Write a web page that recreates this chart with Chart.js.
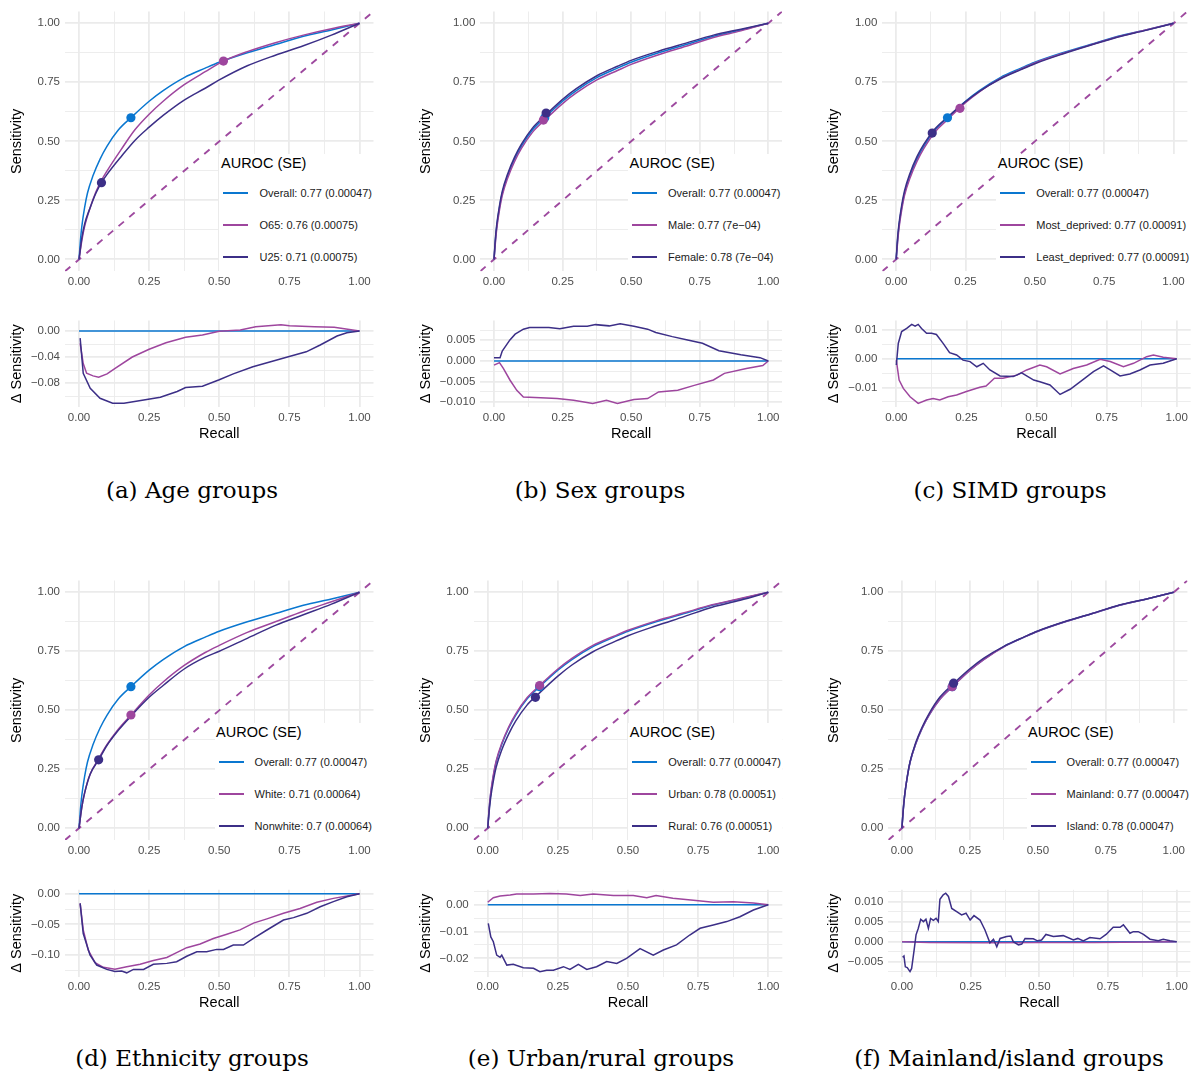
<!DOCTYPE html>
<html><head><meta charset="utf-8">
<script src="https://cdn.jsdelivr.net/npm/chart.js@4.4.1/dist/chart.umd.min.js"></script>
<style>
html,body{margin:0;padding:0;background:#fff;}
body{position:relative;width:1192px;height:1077px;overflow:hidden;}
canvas{position:absolute;}
.leg{position:absolute;background:#fff;padding-right:1.5px;box-sizing:border-box;font-family:"Liberation Sans",Arial,sans-serif;}
.leg .ttl{height:18px;line-height:18px;font-size:14.5px;padding-left:1.5px;white-space:nowrap;color:#000;}
.leg .row{position:relative;height:32px;white-space:nowrap;}
.leg .key{position:absolute;left:4px;top:15px;width:25px;height:2px;}
.leg .lab{position:absolute;left:40px;top:9px;font-size:11px;line-height:14px;white-space:nowrap;color:#1a1a1a;}
.leg .sizer{visibility:hidden;display:block;height:0;overflow:hidden;padding-left:40px;font-size:11px;white-space:nowrap;}
.cap{position:absolute;font-family:"DejaVu Serif",serif;font-size:23px;white-space:nowrap;transform:translate(-50%,-50%);color:#000;}
</style></head><body>
<script>
// ---------------- DATA ----------------
// Common ROC (Overall)
const ovX = [0, 0.005, 0.01, 0.02, 0.03, 0.05, 0.075, 0.1, 0.14, 0.185, 0.25, 0.3, 0.375, 0.45, 0.5, 0.6, 0.7, 0.8, 0.9, 1];
const ovY = [0, 0.08, 0.14, 0.22, 0.28, 0.355, 0.425, 0.48, 0.548, 0.60, 0.67, 0.715, 0.77, 0.81, 0.835, 0.875, 0.91, 0.945, 0.972, 1];

// (a) Age
const ageO65X = [0, 0.01, 0.02, 0.04, 0.06, 0.08, 0.1, 0.15, 0.2, 0.25, 0.3, 0.375, 0.45, 0.515, 0.6, 0.7, 0.8, 0.9, 1];
const ageO65Y = [0, 0.08, 0.14, 0.22, 0.285, 0.335, 0.375, 0.465, 0.55, 0.615, 0.67, 0.74, 0.795, 0.84, 0.88, 0.918, 0.95, 0.977, 1];
const ageU25X = [0, 0.01, 0.02, 0.04, 0.06, 0.08, 0.1, 0.15, 0.2, 0.25, 0.3, 0.375, 0.45, 0.5, 0.6, 0.7, 0.8, 0.9, 1];
const ageU25Y = [0, 0.09, 0.15, 0.22, 0.28, 0.325, 0.36, 0.435, 0.505, 0.56, 0.61, 0.675, 0.725, 0.76, 0.82, 0.865, 0.905, 0.95, 1];
const ageDotX = [0.185, 0.515, 0.08];
const ageDotY = [0.60, 0.84, 0.325];
const ageLabels = ["Overall: 0.77 (0.00047)", "O65: 0.76 (0.00075)", "U25: 0.71 (0.00075)"];

// (b) Sex
const sexMaleY = [0, 0.07, 0.13, 0.21, 0.27, 0.345, 0.415, 0.47, 0.538, 0.59, 0.66, 0.705, 0.76, 0.80, 0.826, 0.867, 0.903, 0.94, 0.968, 1];
const sexFemaleY = [0, 0.088, 0.148, 0.228, 0.288, 0.363, 0.433, 0.488, 0.556, 0.608, 0.678, 0.723, 0.778, 0.818, 0.843, 0.882, 0.916, 0.95, 0.975, 1];
const sexDotX = [0.185, 0.18, 0.19];
const sexDotY = [0.60, 0.59, 0.62];
const sexLabels = ["Overall: 0.77 (0.00047)", "Male: 0.77 (7e\u221204)", "Female: 0.78 (7e\u221204)"];

// (c) SIMD
const simdMostY = [0, 0.07, 0.13, 0.21, 0.27, 0.345, 0.415, 0.47, 0.54, 0.592, 0.664, 0.71, 0.766, 0.806, 0.832, 0.872, 0.908, 0.943, 0.972, 1];
const simdLeastY = [0, 0.09, 0.15, 0.23, 0.29, 0.365, 0.435, 0.488, 0.553, 0.602, 0.668, 0.712, 0.764, 0.804, 0.829, 0.87, 0.907, 0.942, 0.97, 1];
const simdDotX = [0.185, 0.23, 0.13];
const simdDotY = [0.60, 0.64, 0.535];
const simdLabels = ["Overall: 0.77 (0.00047)", "Most_deprived: 0.77 (0.00091)", "Least_deprived: 0.77 (0.00091)"];

// (d) Ethnicity
const ethX = [0, 0.01, 0.02, 0.04, 0.07, 0.1, 0.14, 0.185, 0.25, 0.3, 0.375, 0.45, 0.5, 0.6, 0.7, 0.8, 0.9, 1];
const ethWhiteY = [0, 0.09, 0.15, 0.23, 0.295, 0.355, 0.42, 0.48, 0.565, 0.62, 0.69, 0.745, 0.775, 0.83, 0.875, 0.92, 0.96, 1];
const ethNonwhiteY = [0, 0.09, 0.15, 0.23, 0.29, 0.352, 0.415, 0.475, 0.555, 0.605, 0.675, 0.725, 0.75, 0.805, 0.86, 0.905, 0.95, 1];
const ethDotX = [0.185, 0.185, 0.07];
const ethDotY = [0.60, 0.48, 0.29];
const ethLabels = ["Overall: 0.77 (0.00047)", "White: 0.71 (0.00064)", "Nonwhite: 0.7 (0.00064)"];

// (e) Urban / rural
const urbUrbanY = [0, 0.085, 0.145, 0.226, 0.286, 0.36, 0.43, 0.485, 0.553, 0.605, 0.675, 0.72, 0.775, 0.814, 0.839, 0.879, 0.913, 0.947, 0.974, 1];
const urbRuralY = [0, 0.07, 0.125, 0.2, 0.258, 0.332, 0.4, 0.455, 0.522, 0.574, 0.645, 0.692, 0.748, 0.79, 0.816, 0.858, 0.897, 0.937, 0.966, 1];
const urbDotX = [0.185, 0.185, 0.17];
const urbDotY = [0.60, 0.605, 0.555];
const urbLabels = ["Overall: 0.77 (0.00047)", "Urban: 0.78 (0.00051)", "Rural: 0.76 (0.00051)"];

// (f) Mainland / island
const islMainlandY = [0, 0.08, 0.14, 0.22, 0.28, 0.355, 0.425, 0.48, 0.547, 0.599, 0.669, 0.714, 0.769, 0.81, 0.835, 0.875, 0.91, 0.945, 0.972, 1];
const islIslandY = [0, 0.076, 0.136, 0.218, 0.282, 0.36, 0.43, 0.486, 0.556, 0.608, 0.676, 0.72, 0.771, 0.811, 0.836, 0.876, 0.91, 0.946, 0.972, 1];
const islDotX = [0.185, 0.185, 0.19];
const islDotY = [0.60, 0.60, 0.615];
const islLabels = ["Overall: 0.77 (0.00047)", "Mainland: 0.77 (0.00047)", "Island: 0.78 (0.00047)"];

// Delta sensitivity curves
const dZeroX = [0, 1];
const dZeroY = [0, 0];

const dAgeO65X = [0.004, 0.015, 0.027, 0.05, 0.07, 0.1, 0.13, 0.19, 0.25, 0.31, 0.38, 0.44, 0.5, 0.575, 0.63, 0.72, 0.75, 0.84, 0.91, 1];
const dAgeO65Y = [-0.019, -0.05, -0.065, -0.069, -0.071, -0.066, -0.057, -0.040, -0.028, -0.018, -0.0097, -0.006, -0.0005, 0.0015, 0.0067, 0.0097, 0.008, 0.0067, 0.0056, 0];
const dAgeU25X = [0.004, 0.015, 0.04, 0.075, 0.12, 0.16, 0.22, 0.29, 0.35, 0.38, 0.44, 0.5, 0.55, 0.62, 0.74, 0.81, 0.86, 0.92, 0.955, 1];
const dAgeU25Y = [-0.011, -0.065, -0.088, -0.1035, -0.111, -0.111, -0.107, -0.102, -0.093, -0.087, -0.085, -0.075, -0.066, -0.055, -0.0405, -0.032, -0.0215, -0.0077, -0.0026, 0];

const dSexMaleX = [0, 0.02, 0.034, 0.058, 0.083, 0.107, 0.17, 0.23, 0.29, 0.36, 0.41, 0.45, 0.51, 0.56, 0.6, 0.67, 0.73, 0.8, 0.84, 0.92, 0.98, 1];
const dSexMaleY = [-0.001, -0.0004, -0.0018, -0.0046, -0.0071, -0.0087, -0.0089, -0.0091, -0.0095, -0.0103, -0.0095, -0.0103, -0.0093, -0.0091, -0.0075, -0.0071, -0.0059, -0.0046, -0.003, -0.0018, -0.0011, 0];
const dSexFemaleX = [0, 0.022, 0.03, 0.058, 0.077, 0.107, 0.13, 0.2, 0.24, 0.29, 0.34, 0.37, 0.42, 0.46, 0.51, 0.56, 0.59, 0.65, 0.71, 0.76, 0.82, 0.9, 0.97, 1];
const dSexFemaleY = [0.0008, 0.0008, 0.0024, 0.0051, 0.0065, 0.0077, 0.0081, 0.0081, 0.0078, 0.0084, 0.0084, 0.0088, 0.0085, 0.009, 0.0084, 0.0077, 0.0069, 0.0059, 0.005, 0.0043, 0.0025, 0.0015, 0.0008, 0];

const dSimdMostX = [0, 0.01, 0.025, 0.049, 0.078, 0.108, 0.131, 0.155, 0.185, 0.215, 0.25, 0.298, 0.32, 0.35, 0.38, 0.43, 0.465, 0.512, 0.536, 0.584, 0.631, 0.679, 0.727, 0.763, 0.81, 0.846, 0.893, 0.917, 0.952, 1];
const dSimdMostY = [-0.0005, -0.0074, -0.0103, -0.0132, -0.0155, -0.0143, -0.0138, -0.0143, -0.0132, -0.0126, -0.0114, -0.0099, -0.0095, -0.0068, -0.0068, -0.0057, -0.0039, -0.0022, -0.0028, -0.0053, -0.0034, -0.0022, -0.0002, -0.001, -0.0028, -0.0016, 0.0007, 0.0013, 0.0005, 0];
const dSimdLeastX = [0, 0.007, 0.019, 0.037, 0.055, 0.067, 0.078, 0.09, 0.108, 0.126, 0.143, 0.167, 0.19, 0.215, 0.238, 0.263, 0.287, 0.31, 0.334, 0.37, 0.417, 0.447, 0.49, 0.512, 0.548, 0.584, 0.62, 0.667, 0.703, 0.739, 0.763, 0.798, 0.833, 0.869, 0.905, 0.952, 1];
const dSimdLeastY = [-0.0022, 0.0053, 0.0094, 0.0105, 0.0119, 0.0113, 0.0119, 0.0105, 0.0088, 0.0088, 0.0084, 0.0053, 0.0021, 0.0013, -0.0005, -0.001, -0.0028, -0.0016, -0.0039, -0.006, -0.0062, -0.0049, -0.0074, -0.008, -0.0091, -0.0124, -0.0106, -0.0072, -0.0045, -0.0025, -0.0039, -0.006, -0.0053, -0.0039, -0.0022, -0.0016, 0];

const dEthWhiteX = [0.004, 0.015, 0.033, 0.057, 0.087, 0.128, 0.17, 0.218, 0.265, 0.313, 0.348, 0.384, 0.432, 0.479, 0.527, 0.574, 0.622, 0.67, 0.729, 0.788, 0.848, 0.907, 1];
const dEthWhiteY = [-0.0158, -0.059, -0.092, -0.1125, -0.12, -0.123, -0.119, -0.115, -0.109, -0.104, -0.096, -0.088, -0.082, -0.073, -0.066, -0.059, -0.048, -0.041, -0.032, -0.024, -0.014, -0.0076, 0];
const dEthNonwhiteX = [0.004, 0.015, 0.039, 0.063, 0.099, 0.128, 0.152, 0.17, 0.194, 0.23, 0.265, 0.313, 0.348, 0.384, 0.42, 0.455, 0.491, 0.515, 0.55, 0.586, 0.622, 0.67, 0.729, 0.765, 0.812, 0.86, 0.907, 0.955, 1];
const dEthNonwhiteY = [-0.0158, -0.065, -0.1, -0.1163, -0.1234, -0.127, -0.126, -0.129, -0.1234, -0.1234, -0.115, -0.1136, -0.111, -0.102, -0.0946, -0.0946, -0.0908, -0.0908, -0.0837, -0.0837, -0.0728, -0.0592, -0.043, -0.039, -0.032, -0.0212, -0.013, -0.0049, 0];

const dUrbUrbanX = [0, 0.02, 0.044, 0.08, 0.103, 0.163, 0.222, 0.28, 0.33, 0.376, 0.448, 0.519, 0.567, 0.6, 0.66, 0.733, 0.804, 0.875, 0.947, 1];
const dUrbUrbanY = [0.0009, 0.0026, 0.0032, 0.0036, 0.004, 0.004, 0.0042, 0.004, 0.0034, 0.004, 0.0034, 0.0034, 0.0026, 0.0034, 0.0024, 0.0017, 0.0009, 0.0011, 0.0006, 0];
const dUrbRuralX = [0.002, 0.011, 0.02, 0.032, 0.044, 0.05, 0.068, 0.091, 0.127, 0.163, 0.186, 0.21, 0.234, 0.27, 0.293, 0.323, 0.353, 0.388, 0.424, 0.46, 0.495, 0.543, 0.59, 0.626, 0.673, 0.72, 0.757, 0.804, 0.852, 0.899, 0.947, 1];
const dUrbRuralY = [-0.007, -0.012, -0.0138, -0.0188, -0.0196, -0.0188, -0.0225, -0.0222, -0.0235, -0.0237, -0.025, -0.0244, -0.0244, -0.0231, -0.0241, -0.0222, -0.0241, -0.0231, -0.0212, -0.0219, -0.02, -0.0164, -0.0188, -0.0169, -0.015, -0.0113, -0.0088, -0.0076, -0.0063, -0.0045, -0.002, 0];

const dIslMainlandX = [0, 0.1, 0.3, 0.5, 0.7, 0.9, 1];
const dIslMainlandY = [0, -0.0002, -0.0003, -0.0002, -0.0002, -0.0001, 0];
const dIslIslandX = [0.002, 0.007, 0.012, 0.019, 0.029, 0.035, 0.044, 0.051, 0.059, 0.068, 0.078, 0.087, 0.096, 0.104, 0.114, 0.124, 0.132, 0.138, 0.15, 0.159, 0.169, 0.181, 0.199, 0.217, 0.233, 0.248, 0.262, 0.284, 0.302, 0.32, 0.333, 0.345, 0.357, 0.381, 0.396, 0.405, 0.424, 0.436, 0.448, 0.478, 0.493, 0.508, 0.524, 0.551, 0.587, 0.624, 0.64, 0.66, 0.684, 0.721, 0.743, 0.769, 0.794, 0.806, 0.83, 0.842, 0.86, 0.879, 0.903, 0.933, 0.951, 0.976, 1];
const dIslIslandY = [-0.0039, -0.0036, -0.0063, -0.0065, -0.0075, -0.0067, -0.0021, 0.0017, 0.0033, 0.0056, 0.005, 0.0056, 0.0033, 0.0058, 0.0053, 0.0058, 0.005, 0.0106, 0.0117, 0.0121, 0.0113, 0.0083, 0.0075, 0.0067, 0.0071, 0.0054, 0.0065, 0.0054, 0.0029, -0.0003, 0.0006, -0.0013, 0.0008, 0.0013, 0.0014, 0, -0.0008, -0.0006, 0.0008, 0.0007, 0.0002, 0.0004, 0.0018, 0.0013, 0.0015, 0.0004, 0.0008, 0.0002, 0.001, 0.0007, 0.0018, 0.0036, 0.0036, 0.0042, 0.0021, 0.0025, 0.0025, 0.0018, 0.0006, 0.0002, 0.0006, 0.0002, 0];

// Tick values and labels
const rocMajor = [0, 0.25, 0.5, 0.75, 1];
const rocLabels = ["0.00", "0.25", "0.50", "0.75", "1.00"];
const rocMinor = [0.125, 0.375, 0.625, 0.875];

const dAgeMajor = [0, -0.04, -0.08];          const dAgeLabels = ["0.00", "\u22120.04", "\u22120.08"];       const dAgeMinor = [-0.02, -0.06, -0.10];
const dSexMajor = [0.005, 0, -0.005, -0.01];  const dSexLabels = ["0.005", "0.000", "\u22120.005", "\u22120.010"]; const dSexMinor = [0.0075, 0.0025, -0.0025, -0.0075];
const dSimdMajor = [0.01, 0, -0.01];          const dSimdLabels = ["0.01", "0.00", "\u22120.01"];          const dSimdMinor = [0.005, -0.005, -0.015];
const dEthMajor = [0, -0.05, -0.1];           const dEthLabels = ["0.00", "\u22120.05", "\u22120.10"];       const dEthMinor = [-0.025, -0.075, -0.125];
const dUrbMajor = [0, -0.01, -0.02];          const dUrbLabels = ["0.00", "\u22120.01", "\u22120.02"];       const dUrbMinor = [0.005, -0.005, -0.015, -0.025];
const dIslMajor = [0.01, 0.005, 0, -0.005];   const dIslLabels = ["0.010", "0.005", "0.000", "\u22120.005"]; const dIslMinor = [0.0125, 0.0075, 0.0025, -0.0025, -0.0075];

const captions = ["(a) Age groups", "(b) Sex groups", "(c) SIMD groups", "(d) Ethnicity groups", "(e) Urban/rural groups", "(f) Mainland/island groups"];

// ---------------- STYLE / LAYOUT ----------------
const FONT = '"Liberation Sans", Arial, Helvetica, sans-serif';
const COL = {overall: '#0A77D0', g1: '#9E469E', g2: '#3C2F87', diag: '#9E4A9F', grid: '#EBEBEB', tick: '#4D4D4D', title: '#000000'};
const ROC_MIN = -0.05, ROC_MAX = 1.05;
const TLH = 14.5 * 1.2;

const COLS = {
  a: {L: 65, R: 373.5, cl: 0, cw: 390, tcx: 16.5, capX: 192},
  b: {L: 480.3, R: 782, cl: 400, cw: 400, tcx: 426, capX: 600},
  c: {L: 882.3, R: 1190.7, cl: 810, cw: 382, tcx: 834, capX: 1010},
  d: {L: 65, R: 373.5, cl: 0, cw: 390, tcx: 16.5, capX: 192},
  e: {L: 473.7, R: 782.3, cl: 400, cw: 400, tcx: 426, capX: 601},
  f: {L: 888.3, R: 1190.4, cl: 810, cw: 382, tcx: 834, capX: 1009}
};
const ROWS = {
  top: {roc: {T: 11.5, B: 271.2, ct: 0, ch: 292}, del: {T: 320.5, B: 407, ct: 300, ch: 152, rc: 433.5}, cap: 490},
  bot: {roc: {T: 580.5, B: 840.1, ct: 565, ch: 296}, del: {T: 889.8, B: 976.5, ct: 870, ch: 152, rc: 1003}, cap: 1058}
};

function pts(xs, ys) { return xs.map((x, i) => ({x: x, y: ys[i]})); }
function near(a, b) { return Math.abs(a - b) < 1e-9; }
function sorted(a, b) { return a.concat(b).sort((p, q) => p - q); }

function lineDs(xs, ys, color, order, smooth) {
  return {data: pts(xs, ys), borderColor: color, backgroundColor: color, borderWidth: 1.5, pointRadius: 0, pointHoverRadius: 0,
    fill: false, cubicInterpolationMode: smooth ? 'monotone' : 'default', tension: 0, order: order};
}
function diagDs() {
  return {data: [{x: ROC_MIN, y: ROC_MIN}, {x: ROC_MAX, y: ROC_MAX}], borderColor: COL.diag, borderWidth: 1.9,
    borderDash: [7, 7], pointRadius: 0, fill: false, order: 20};
}
function dotDs(xs, ys) {
  const cs = [COL.overall, COL.g1, COL.g2];
  return {data: pts(xs, ys), showLine: false, pointRadius: 4.6, pointHoverRadius: 4.6, pointBackgroundColor: cs,
    pointBorderColor: cs, pointBorderWidth: 0, order: 0};
}

function axis(p, which) {
  const isX = which === 'x';
  const major = isX ? p.xMajor : p.yMajor;
  const labels = isX ? p.xLabels : p.yLabels;
  const all = isX ? p.xTicks : p.yTicks;
  return {
    type: 'linear', bounds: 'data',
    min: isX ? p.xMin : p.yMin, max: isX ? p.xMax : p.yMax,
    afterBuildTicks: s => { s.ticks = all.map(v => ({value: v})); },
    afterFit: s => {
      if (isX) s.height = p.xH; else s.width = p.yW;
      s.paddingLeft = 0; s.paddingRight = 0; s.paddingTop = 0; s.paddingBottom = 0;
    },
    grid: {color: COL.grid, drawTicks: false,
      lineWidth: c => (c.tick && major.some(m => near(m, c.tick.value))) ? 1.8 : 0.9},
    border: {display: false},
    ticks: {autoSkip: false, maxRotation: 0, minRotation: 0, padding: isX ? 3.9 : 5, color: COL.tick,
      font: {family: FONT, size: 11.5},
      callback: v => { const i = major.findIndex(m => near(m, v)); return i >= 0 ? labels[i] : ''; }},
    title: isX
      ? {display: !!p.xTitle, text: p.xTitle || '', color: COL.title, font: {family: FONT, size: 14.5, lineHeight: 1.2},
         padding: {top: 0, bottom: p.xTitlePad || 0}}
      : {display: true, text: p.yTitle, color: COL.title, font: {family: FONT, size: 14.5, lineHeight: 1.2},
         padding: {top: p.yTitlePad, bottom: 0}}
  };
}

function makeChart(p) {
  const cv = document.createElement('canvas');
  cv.width = p.cw; cv.height = p.ch;
  cv.style.left = p.cl + 'px'; cv.style.top = p.ct + 'px';
  cv.style.width = p.cw + 'px'; cv.style.height = p.ch + 'px';
  document.body.appendChild(cv);
  p.yW = p.L - p.cl;
  p.xH = p.ct + p.ch - p.B;
  new Chart(cv.getContext('2d'), {
    type: 'line',
    data: {datasets: p.datasets},
    options: {
      responsive: false, animation: false, devicePixelRatio: 1, events: [],
      layout: {padding: {top: p.T - p.ct, right: p.cl + p.cw - p.R, left: 0, bottom: 0}},
      plugins: {legend: {display: false}, tooltip: {enabled: false}},
      scales: {x: axis(p, 'x'), y: axis(p, 'y')}
    }
  });
}

function makeLegend(R, top, bottom, labels) {
  const d = document.createElement('div');
  d.className = 'leg';
  d.style.right = (1192 - R) + 'px';
  d.style.top = Math.round(top) + 'px';
  d.style.height = (bottom - Math.round(top)) + 'px';
  const t = document.createElement('div');
  t.className = 'ttl'; t.textContent = 'AUROC (SE)';
  d.appendChild(t);
  const cs = [COL.overall, COL.g1, COL.g2];
  labels.forEach((lab, i) => {
    const r = document.createElement('div'); r.className = 'row';
    if (i === 0) r.style.marginTop = '5px';
    const k = document.createElement('span'); k.className = 'key'; k.style.background = cs[i];
    const s = document.createElement('span'); s.className = 'lab'; s.textContent = lab;
    const z = document.createElement('span'); z.className = 'sizer'; z.textContent = lab;
    r.appendChild(k); r.appendChild(s); r.appendChild(z); d.appendChild(r);
  });
  document.body.appendChild(d);
}

function makeCaption(text, x, y) {
  const c = document.createElement('div');
  c.className = 'cap'; c.textContent = text;
  c.style.left = x + 'px'; c.style.top = y + 'px';
  document.body.appendChild(c);
}

const xTicksAll = sorted(rocMajor, rocMinor);

function panel(colKey, rowKey, roc, del, labels, caption) {
  const col = COLS[colKey], row = ROWS[rowKey];
  const base = {cl: col.cl, cw: col.cw, L: col.L, R: col.R, xMin: ROC_MIN, xMax: ROC_MAX,
    xTicks: xTicksAll, xMajor: rocMajor, xLabels: rocLabels, yTitlePad: col.tcx - col.cl - TLH / 2};
  makeChart(Object.assign({}, base, {
    T: row.roc.T, B: row.roc.B, ct: row.roc.ct, ch: row.roc.ch,
    yMin: ROC_MIN, yMax: ROC_MAX, yTicks: xTicksAll, yMajor: rocMajor, yLabels: rocLabels,
    yTitle: 'Sensitivity', xTitle: null,
    datasets: [
      dotDs(roc.dotX, roc.dotY),
      lineDs(roc.g2X, roc.g2Y, COL.g2, 1, true),
      lineDs(roc.g1X, roc.g1Y, COL.g1, 2, true),
      lineDs(ovX, ovY, COL.overall, 3, true),
      diagDs()
    ]
  }));
  makeChart(Object.assign({}, base, {
    T: row.del.T, B: row.del.B, ct: row.del.ct, ch: row.del.ch,
    yMin: del.yMin, yMax: del.yMax, yTicks: sorted(del.major, del.minor), yMajor: del.major, yLabels: del.labels,
    yTitle: '\u0394 Sensitivity', xTitle: 'Recall', xTitlePad: row.del.ct + row.del.ch - row.del.rc - TLH / 2,
    datasets: [
      lineDs(del.g2X, del.g2Y, COL.g2, 1, false),
      lineDs(del.g1X, del.g1Y, COL.g1, 2, false),
      lineDs(dZeroX, dZeroY, COL.overall, 3, false)
    ]
  }));
  makeLegend(col.R, row.roc.T + 142, row.roc.B, labels);
  makeCaption(caption, col.capX, row.cap);
}

panel('a', 'top',
  {g1X: ageO65X, g1Y: ageO65Y, g2X: ageU25X, g2Y: ageU25Y, dotX: ageDotX, dotY: ageDotY},
  {g1X: dAgeO65X, g1Y: dAgeO65Y, g2X: dAgeU25X, g2Y: dAgeU25Y, yMin: -0.1169, yMax: 0.01615, major: dAgeMajor, labels: dAgeLabels, minor: dAgeMinor},
  ageLabels, captions[0]);
panel('b', 'top',
  {g1X: ovX, g1Y: sexMaleY, g2X: ovX, g2Y: sexFemaleY, dotX: sexDotX, dotY: sexDotY},
  {g1X: dSexMaleX, g1Y: dSexMaleY, g2X: dSexFemaleX, g2Y: dSexFemaleY, yMin: -0.01114, yMax: 0.0098, major: dSexMajor, labels: dSexLabels, minor: dSexMinor},
  sexLabels, captions[1]);
panel('c', 'top',
  {g1X: ovX, g1Y: simdMostY, g2X: ovX, g2Y: simdLeastY, dotX: simdDotX, dotY: simdDotY},
  {g1X: dSimdMostX, g1Y: dSimdMostY, g2X: dSimdLeastX, g2Y: dSimdLeastY, yMin: -0.01675, yMax: 0.01325, major: dSimdMajor, labels: dSimdLabels, minor: dSimdMinor},
  simdLabels, captions[2]);
panel('d', 'bot',
  {g1X: ethX, g1Y: ethWhiteY, g2X: ethX, g2Y: ethNonwhiteY, dotX: ethDotX, dotY: ethDotY},
  {g1X: dEthWhiteX, g1Y: dEthWhiteY, g2X: dEthNonwhiteX, g2Y: dEthNonwhiteY, yMin: -0.135, yMax: 0.00636, major: dEthMajor, labels: dEthLabels, minor: dEthMinor},
  ethLabels, captions[3]);
panel('e', 'bot',
  {g1X: ovX, g1Y: urbUrbanY, g2X: ovX, g2Y: urbRuralY, dotX: urbDotX, dotY: urbDotY},
  {g1X: dUrbUrbanX, g1Y: dUrbUrbanY, g2X: dUrbRuralX, g2Y: dUrbRuralY, yMin: -0.02676, yMax: 0.00555, major: dUrbMajor, labels: dUrbLabels, minor: dUrbMinor},
  urbLabels, captions[4]);
panel('f', 'bot',
  {g1X: ovX, g1Y: islMainlandY, g2X: ovX, g2Y: islIslandY, dotX: islDotX, dotY: islDotY},
  {g1X: dIslMainlandX, g1Y: dIslMainlandY, g2X: dIslIslandX, g2Y: dIslIslandY, yMin: -0.00872, yMax: 0.01296, major: dIslMajor, labels: dIslLabels, minor: dIslMinor},
  islLabels, captions[5]);
</script>
</body></html>
